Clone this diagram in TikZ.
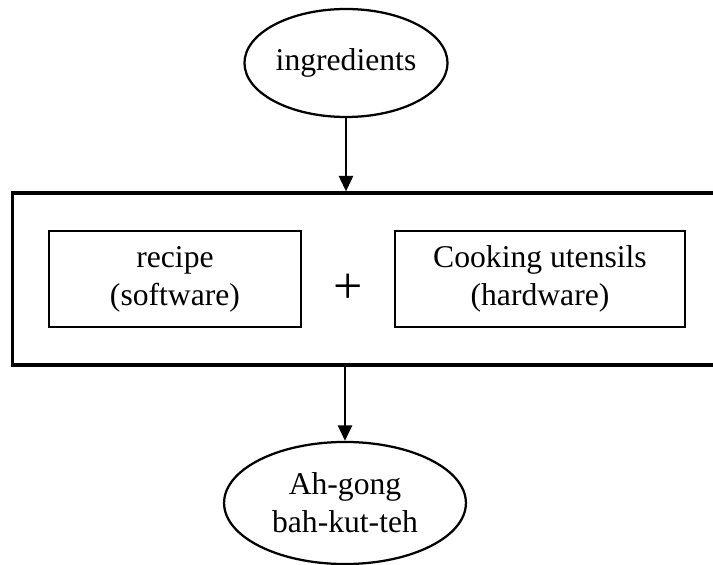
\documentclass[tikz,border=0pt]{standalone}
\usepackage{fontspec}
\setmainfont{Liberation Serif}
\usetikzlibrary{arrows.meta}
\usetikzlibrary{shapes.geometric}

\begin{document}
\begin{tikzpicture}[x=0.025cm, y=-0.025cm,
    txt/.style={font=\fontsize{22.5}{27}\selectfont, align=center, inner sep=0pt},
    oval/.style={txt, ellipse, draw, line width=1.6pt},
    part/.style={txt, rectangle, draw, line width=2pt, minimum height=68.3pt},
    arrow/.style={line width=1.6pt, -{Triangle[width=10pt, length=11pt]}}]
      \useasboundingbox (0,0) rectangle (713,565);
      \clip (0,0) rectangle (713,565);

      \node[oval, minimum width=144.4pt, minimum height=76.8pt] (ingredients) at (346,63) {ingredients};
      \node[rectangle, draw, line width=2.3pt, minimum width=517pt, minimum height=122.3pt] (frame) at (376,279) {};
      \node[part, minimum width=179.2pt] (recipe) at (175,279) {recipe\\(software)};
      \node[part, minimum width=206.3pt] (utensils) at (540,279) {Cooking utensils\\(hardware)};
      \node[font=\fontsize{37}{37}\selectfont, inner sep=0pt] (plus) at (348,289) {+};
      \node[oval, minimum width=172pt, minimum height=86.8pt] (dish) at (345,503) {Ah-gong\\bah-kut-teh};

      \draw[arrow] (ingredients.south) -- (ingredients.south |- frame.north);
      \draw[arrow] (dish.north |- frame.south) -- (dish.north);
    \end{tikzpicture}
\end{document}
